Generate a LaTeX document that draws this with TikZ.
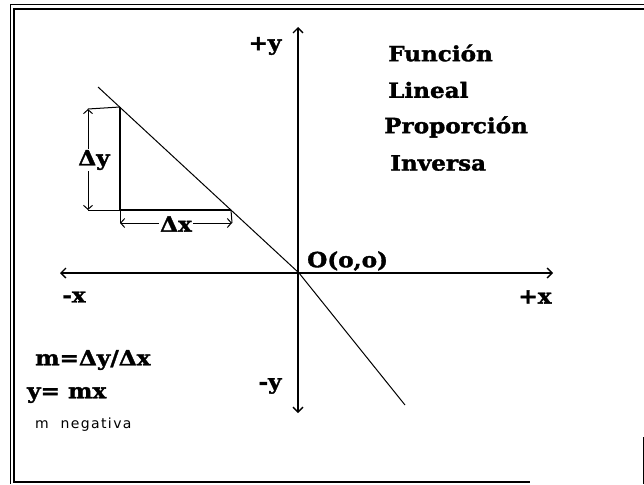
\documentclass[tikz,border=0pt]{standalone}
\usepackage{fontspec}
\usetikzlibrary{arrows.meta}
\newfontfamily\lblfont[FakeStretch=1.1,FakeBold=1.6]{DejaVu Serif Bold}
\newfontfamily\smallfont[LetterSpace=10]{DejaVu Sans}
\begin{document}
\begin{tikzpicture}[x=1pt,y=-1pt,
  lbl/.style={inner sep=0pt,font=\lblfont\fontsize{21}{23}\selectfont},
  axis/.style={line width=1.3pt,{Straight Barb[length=5pt,width=10pt]}-{Straight Barb[length=5pt,width=10pt]}},
  dim/.style={line width=1pt,{Straight Barb[length=4pt,width=9pt]}-{Straight Barb[length=4pt,width=9pt]}},
  frame/.style={line width=1pt}]
\useasboundingbox (0,0) rectangle (644,484);
% frame
\draw[frame] (644,5) -- (10,5) -- (10,484);
\draw[line width=1.4pt] (644,9) -- (14,9) -- (14,482) -- (530,482);
\draw[frame] (643,437) -- (643,484);
% coordinates
\coordinate (O) at (299,273);
\coordinate (L) at (98,87);
\coordinate (E) at (405,405);
\coordinate (T) at (120,107);
\coordinate (B) at (120,210);
\coordinate (H) at (231,210);
% axes
\coordinate (ytop) at (298,27);
\coordinate (ybot) at (298,413);
\coordinate (xl) at (60,273);
\coordinate (xr) at (553,273);
\draw[axis] (ybot) -- (ytop);
\draw[axis] (xl) -- (xr);
% line
\draw[line width=1pt] (L) -- (O) -- (E);
% triangle
\draw[line width=1.4pt] (T) -- (B) -- (H);
% dimension Δy
\coordinate (dyT) at (88,109);
\coordinate (dyB) at (88,210);
\draw[line width=1pt] (dyT) -- (T);
\draw[line width=1pt] (dyB) -- (B);
\draw[dim] (dyT) -- (dyB);
\node[lbl,fill=white,inner sep=1pt,anchor=center] (dy) at (94,160) {Δy};
% dimension Δx
\coordinate (dxL) at (120,223);
\coordinate (dxR) at (232,223);
\draw[line width=1pt] (B) -- (dxL);
\draw[line width=1pt] (H) -- (dxR);
\draw[dim] (dxL) -- (dxR);
\node[lbl,fill=white,inner sep=1pt,anchor=center] (dx) at (176,224) {Δx};
% labels
\node[lbl,anchor=center] (py) at (265,46) {+y};
\node[lbl,anchor=center] (my) at (270,386) {-y};
\node[lbl,anchor=center] (mx) at (74,297) {-x};
\node[lbl,anchor=center] (px) at (535,297) {+x};
\node[lbl,anchor=west] (oo) at (307,261) {O(o,o)};
\node[lbl,anchor=west] (t1) at (388,53) {Función};
\node[lbl,anchor=west] (t2) at (388,90) {Lineal};
\node[lbl,anchor=west] (t3) at (384,127) {Proporción};
\node[lbl,anchor=west] (t4) at (390,163) {Inversa};
\node[lbl,anchor=west] (f1) at (35,360) {m=Δy/Δx};
\node[lbl,anchor=west] (f2) at (27,395) {y= mx};
\node[inner sep=0pt,anchor=west,font=\smallfont\fontsize{14}{16}\selectfont] (f3) at (35,425) {m\ \ negativa};
\end{tikzpicture}
\end{document}
